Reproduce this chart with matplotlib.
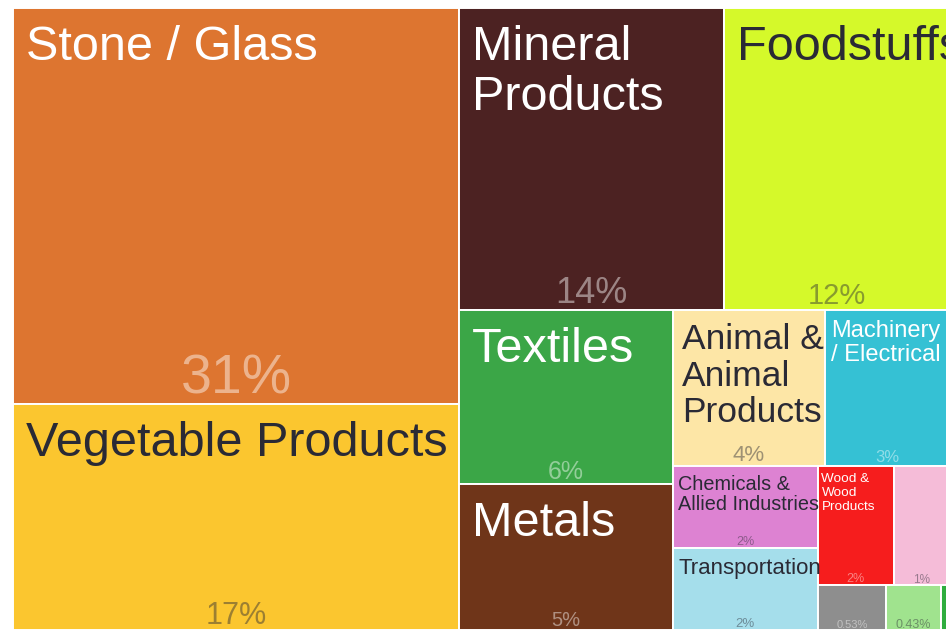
import matplotlib
matplotlib.use('Agg')
import matplotlib.pyplot as plt
from matplotlib.patches import Rectangle

# export shares by product section, percent of total
sections = ['Stone / Glass', 'Vegetable Products', 'Mineral Products', 'Foodstuffs',
            'Textiles', 'Metals', 'Animal & Animal Products', 'Machinery / Electrical',
            'Chemicals & Allied Industries', 'Transportation', 'Wood & Wood Products',
            'Paper Goods', 'Plastics / Rubbers', 'Animal & Vegetable Bi-Products',
            'Footwear / Headgear']
shares = [30.55, 17.4, 13.83, 11.75, 6.45, 5.38, 4.1, 3.34, 2.06, 2.06, 1.56, 1.14,
          0.53, 0.43, 0.06]

# how each name is broken into lines inside its tile
wrapped = ['Stone / Glass', 'Vegetable Products', 'Mineral\nProducts', 'Foodstuffs',
           'Textiles', 'Metals', 'Animal &\nAnimal\nProducts', 'Machinery\n/ Electrical',
           'Chemicals &\nAllied Industries', 'Transportation', 'Wood &\nWood\nProducts',
           '', '', '', '']

colors = ['#dd7530', '#fbc62f', '#4c2222', '#d5f92a', '#3ba647', '#6f3519', '#fde6a6',
          '#35c1d4', '#dd82d2', '#a5deeb', '#f61d1d', '#f5bcd8', '#8e8e8e', '#a0e38e',
          '#2fad3e']
light_text = [True, False, True, False, True, True, False, True, False, False, True,
              False, True, False, True]

name_pt = [35, 35, 35, 35, 35, 35, 25.5, 17, 14.3, 16, 9.7, 0, 0, 0, 0]
share_pt = [40, 22, 26, 21, 18, 14.5, 16, 12, 9, 9.5, 9, 8.5, 8, 9, 0]

DARK = '#2a2a35'
PHI = (1 + 5 ** 0.5) / 2
W, H = 936, 622          # treemap size in pixels
PX = 100 / 72            # pixels per point at 100 dpi


def squarify(values, x0, y0, x1, y1, ratio=PHI):
    rects = [None] * len(values)
    value = float(sum(values))
    n = len(values)
    i0 = 0
    while i0 < n:
        dx, dy = x1 - x0, y1 - y0
        i1 = i0 + 1
        total = values[i0]
        lo = hi = total
        alpha = max(dy / dx, dx / dy) / (value * ratio)
        beta = total * total * alpha
        best = max(hi / beta, beta / lo)
        while i1 < n:
            v = values[i1]
            lo, hi = min(lo, v), max(hi, v)
            beta = (total + v) ** 2 * alpha
            r = max(hi / beta, beta / lo)
            if r > best:
                break
            total += v
            best = r
            i1 += 1
        if dx < dy:
            h = dy * total / value
            x = x0
            for i in range(i0, i1):
                w = dx * values[i] / total
                rects[i] = (x, y0, w, h)
                x += w
            y0 += h
        else:
            w = dx * total / value
            y = y0
            for i in range(i0, i1):
                h = dy * values[i] / total
                rects[i] = (x0, y, w, h)
                y += h
            x0 += w
        value -= total
        i0 = i1
    return rects


def share_label(v):
    return '{:.0f}%'.format(v) if v >= 1 else '{:.2f}%'.format(v)


plt.rcParams['font.family'] = ['Liberation Sans', 'DejaVu Sans']

fig = plt.figure(figsize=(9.46, 6.30), dpi=100)
ax = fig.add_axes([13 / 946, 0, W / 946, H / 630])
ax.set_xlim(0, W)
ax.set_ylim(H, 0)
ax.axis('off')

tiles = squarify(shares, 0, 0, W, H)
for i, (x, y, w, h) in enumerate(tiles):
    rect = Rectangle((x, y), w, h, facecolor=colors[i], edgecolor='white', lw=1.4)
    ax.add_patch(rect)
    txt_color = 'white' if light_text[i] else DARK

    if wrapped[i] and name_pt[i]:
        em = name_pt[i] * PX
        pad_x = 0.26 * em
        pad_y = 0.26 * em + 4
        for k, line in enumerate(wrapped[i].split('\n')):
            t = ax.text(x + pad_x, y + pad_y + k * 1.03 * em, line, fontsize=name_pt[i],
                        color=txt_color, ha='left', va='top')
            t.set_clip_path(rect)

    if share_pt[i]:
        em = share_pt[i] * PX
        t = ax.text(x + w / 2, y + h - 0.2 * em, share_label(shares[i]),
                    fontsize=share_pt[i], color=txt_color, alpha=0.45,
                    ha='center', va='baseline')
        t.set_clip_path(rect)

fig.savefig('out.png', dpi=100)
